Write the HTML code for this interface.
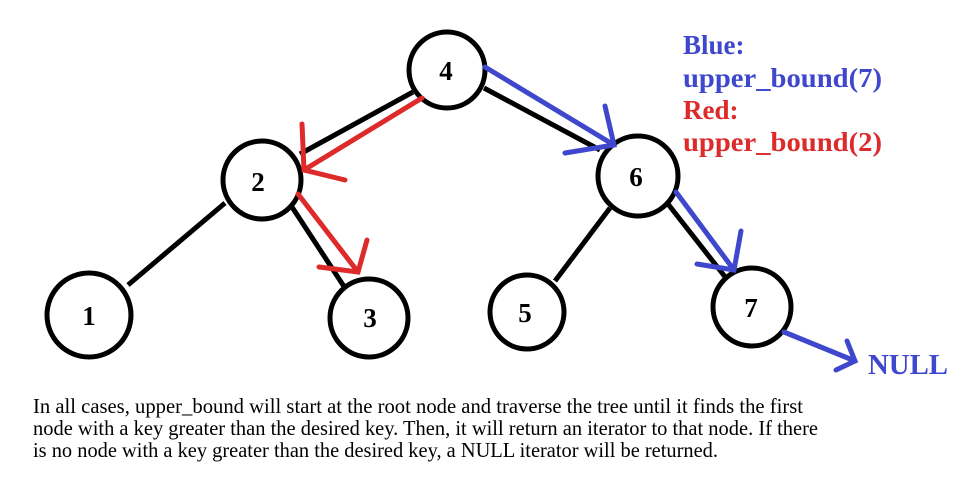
<!DOCTYPE html>
<html><head><meta charset="utf-8"><style>body{margin:0;background:#fff}svg{display:block}</style></head><body>
<svg width="979" height="497" xmlns="http://www.w3.org/2000/svg" font-family="'Liberation Serif', serif">
<rect width="979" height="497" fill="#fff"/>
<g stroke="#000" stroke-width="5" fill="none">
<line x1="413" y1="92" x2="300" y2="154"/>
<line x1="484" y1="88" x2="600" y2="150"/>
<line x1="128" y1="285" x2="225" y2="203"/>
<line x1="292" y1="207" x2="345" y2="288"/>
<line x1="555" y1="281" x2="610" y2="208"/>
<line x1="668" y1="204" x2="726" y2="278"/>
</g>
<g stroke="#000" stroke-width="5" fill="#fff">
<circle cx="447" cy="70" r="38"/>
<circle cx="262" cy="180" r="39"/>
<circle cx="638" cy="176" r="40"/>
<circle cx="89" cy="315" r="42"/>
<circle cx="369" cy="318" r="39"/>
<circle cx="527" cy="312" r="37"/>
<circle cx="752" cy="307" r="39"/>
</g>
<g font-weight="bold" font-size="27" text-anchor="middle">
<text x="446" y="80">4</text><text x="258" y="191">2</text><text x="636" y="186">6</text>
<text x="89" y="325">1</text><text x="370" y="327">3</text><text x="525" y="322">5</text><text x="751" y="317">7</text>
</g>
<g stroke="#dd2a2a" stroke-width="5" fill="none" stroke-linecap="round">
<line x1="422" y1="98" x2="304" y2="170"/><polyline points="302,124 304,170 345,180"/>
<line x1="298" y1="194" x2="358" y2="272"/><polyline points="367,240 358,272 319,267"/>
</g>
<g stroke="#3f48cc" stroke-width="5" fill="none" stroke-linecap="round">
<line x1="485" y1="67" x2="614" y2="145"/><polyline points="605,106 614,145 565,153"/>
<line x1="676" y1="192" x2="734" y2="270"/><polyline points="741,231 734,270 697,264"/>
<line x1="784" y1="332" x2="855" y2="361"/><polyline points="847,341 855,361 836,370"/>
</g>
<g font-weight="bold" font-size="27">
<text x="683" y="54" fill="#3f48cc">Blue:</text>
<text x="683" y="87" fill="#3f48cc" textLength="199" lengthAdjust="spacingAndGlyphs">upper_bound(7)</text>
<text x="683" y="119" fill="#dd2a2a">Red:</text>
<text x="683" y="151" fill="#dd2a2a" textLength="199" lengthAdjust="spacingAndGlyphs">upper_bound(2)</text>
<text x="868" y="374" fill="#3f48cc" font-size="28" textLength="80" lengthAdjust="spacingAndGlyphs">NULL</text>
</g>
<g font-size="21" fill="#000">
<text x="33" y="413" textLength="770" lengthAdjust="spacingAndGlyphs">In all cases, upper_bound will start at the root node and traverse the tree until it finds the first</text>
<text x="33" y="435" textLength="785" lengthAdjust="spacingAndGlyphs">node with a key greater than the desired key. Then, it will return an iterator to that node. If there</text>
<text x="33" y="457" textLength="685" lengthAdjust="spacingAndGlyphs">is no node with a key greater than the desired key, a NULL iterator will be returned.</text>
</g>
</svg>
</body></html>
